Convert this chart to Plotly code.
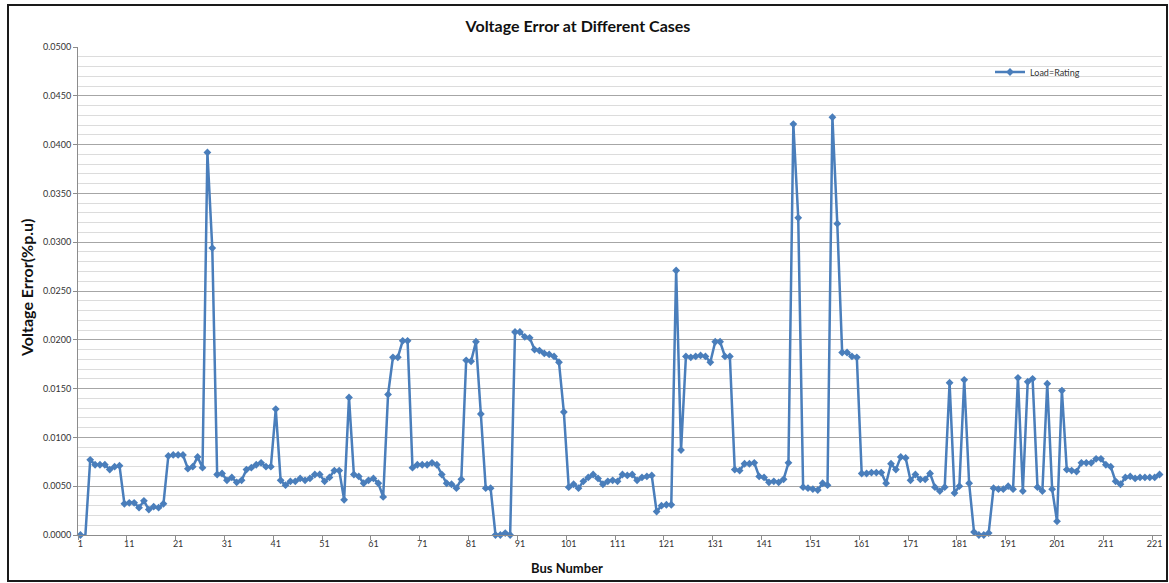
import plotly.graph_objects as go

bus = list(range(1, 223))
voltage_error = [
    0.0000, -0.0001, 0.0077, 0.0072, 0.0072, 0.0072, 0.0067, 0.0070, 0.0071, 0.0032,
    0.0033, 0.0033, 0.0028, 0.0035, 0.0026, 0.0029, 0.0028, 0.0032, 0.0081, 0.0082,
    0.0082, 0.0082, 0.0068, 0.0070, 0.0080, 0.0069, 0.0392, 0.0294, 0.0062, 0.0063,
    0.0056, 0.0059, 0.0054, 0.0056, 0.0067, 0.0069, 0.0072, 0.0074, 0.0070, 0.0070,
    0.0129, 0.0056, 0.0051, 0.0055, 0.0055, 0.0058, 0.0056, 0.0058, 0.0062, 0.0062,
    0.0055, 0.0059, 0.0066, 0.0066, 0.0036, 0.0141, 0.0062, 0.0060, 0.0053, 0.0056,
    0.0058, 0.0053, 0.0039, 0.0144, 0.0182, 0.0182, 0.0199, 0.0199, 0.0069, 0.0072,
    0.0072, 0.0072, 0.0074, 0.0072, 0.0062, 0.0053, 0.0052, 0.0048, 0.0057, 0.0179,
    0.0178, 0.0198, 0.0124, 0.0048, 0.0048, 0.0000, 0.0000, 0.0002, 0.0000, 0.0208,
    0.0208, 0.0203, 0.0202, 0.0190, 0.0189, 0.0186, 0.0185, 0.0183, 0.0177, 0.0126,
    0.0049, 0.0052, 0.0048, 0.0055, 0.0059, 0.0062, 0.0058, 0.0052, 0.0055, 0.0056,
    0.0055, 0.0062, 0.0061, 0.0062, 0.0056, 0.0059, 0.0060, 0.0061, 0.0024, 0.0030,
    0.0031, 0.0031, 0.0271, 0.0087, 0.0183, 0.0182, 0.0183, 0.0184, 0.0183, 0.0177,
    0.0198, 0.0198, 0.0183, 0.0183, 0.0067, 0.0066, 0.0073, 0.0073, 0.0074, 0.0060,
    0.0059, 0.0054, 0.0055, 0.0054, 0.0057, 0.0074, 0.0421, 0.0325, 0.0049, 0.0048,
    0.0047, 0.0046, 0.0053, 0.0051, 0.0428, 0.0319, 0.0187, 0.0187, 0.0183, 0.0182,
    0.0063, 0.0063, 0.0064, 0.0064, 0.0064, 0.0053, 0.0073, 0.0067, 0.0080, 0.0079,
    0.0056, 0.0062, 0.0057, 0.0057, 0.0063, 0.0049, 0.0045, 0.0049, 0.0156, 0.0043,
    0.0050, 0.0159, 0.0053, 0.0003, 0.0000, 0.0000, 0.0002, 0.0048, 0.0047, 0.0047,
    0.0050, 0.0047, 0.0161, 0.0045, 0.0157, 0.0160, 0.0049, 0.0045, 0.0155, 0.0047,
    0.0014, 0.0148, 0.0067, 0.0066, 0.0065, 0.0074, 0.0074, 0.0074, 0.0078, 0.0078,
    0.0072, 0.0070, 0.0055, 0.0052, 0.0059, 0.0060, 0.0058, 0.0059, 0.0059, 0.0059,
    0.0059, 0.0062,
]
x_tick_labels = [str(v) for v in range(1, 222, 10)]
series_name = "Load=Rating"
title_text = "Voltage Error at Different Cases"
x_title = "Bus Number"
y_title = "Voltage Error(%p.u)"

FONT = "Lato"
W, H = 1169, 583
L, R, T, B = 78, 1162, 47, 535
pw, ph = R - L, B - T

def px_x(x):
    return (x - L) / pw

def px_y(y):
    return (B - y) / ph

fig = go.Figure()
fig.add_trace(go.Scatter(
    x=bus, y=voltage_error, mode="lines+markers", name=series_name,
    line=dict(color="#4A7EBB", width=2.5),
    marker=dict(symbol="diamond", size=6, color="#4A7EBB"),
    cliponaxis=False,
))

fig.update_layout(
    width=W, height=H,
    margin=dict(l=L, r=W - R, t=T, b=H - B),
    paper_bgcolor="white", plot_bgcolor="white",
    font=dict(family=FONT, size=9, color="#333333"),
    showlegend=True,
    legend=dict(x=px_x(990), y=px_y(72), xanchor="left", yanchor="middle",
                bgcolor="rgba(0,0,0,0)", font=dict(size=9, color="#333333"),
                itemwidth=30),
    title=dict(text="<b>" + title_text + "</b>", x=px_x(578), xref="paper", xanchor="center",
               y=1 - 26 / H, yref="container", yanchor="middle",
               font=dict(family=FONT, size=16, color="#111111")),
    xaxis=dict(
        range=[0.5, 222.5], tickmode="array",
        tickvals=list(range(1, 222, 10)), ticktext=x_tick_labels,
        ticks="", showgrid=False, zeroline=False,
        showline=True, linecolor="#8c8c8c", linewidth=1,
        tickfont=dict(size=9, color="#333333"),
        minor=dict(tickmode="array", tickvals=[v + 0.5 for v in range(0, 221, 10)],
                   ticks="outside", ticklen=4, tickcolor="#8c8c8c", showgrid=False),
    ),
    yaxis=dict(
        range=[0, 0.05], dtick=0.005, tick0=0, tickformat=".4f",
        showgrid=True, gridcolor="#a6a6a6", gridwidth=1, zeroline=False,
        showline=True, linecolor="#8c8c8c", linewidth=1,
        ticks="outside", ticklen=4, tickcolor="#8c8c8c",
        tickfont=dict(size=9, color="#333333"),
        minor=dict(dtick=0.001, showgrid=True, gridcolor="#dcdcdc", gridwidth=1, ticks=""),
    ),
    annotations=[
        dict(text="<b>" + y_title + "</b>", x=px_x(26), y=px_y(288), xref="paper", yref="paper",
             textangle=-90, showarrow=False, xanchor="center", yanchor="middle",
             font=dict(family=FONT, size=16, color="#111111")),
        dict(text="<b>" + x_title + "</b>", x=px_x(567), y=px_y(568), xref="paper", yref="paper",
             showarrow=False, xanchor="center", yanchor="middle",
             font=dict(family=FONT, size=13, color="#111111")),
    ],
    shapes=[
        dict(type="rect", xref="paper", yref="paper",
             x0=px_x(8), x1=px_x(1167), y0=px_y(581), y1=px_y(5),
             line=dict(color="#1a1a1a", width=2), layer="above"),
    ],
)

fig.write_html("out.html", config={"displayModeBar": False},
               post_script="document.body.style.margin='0';document.body.style.overflow='hidden';")
